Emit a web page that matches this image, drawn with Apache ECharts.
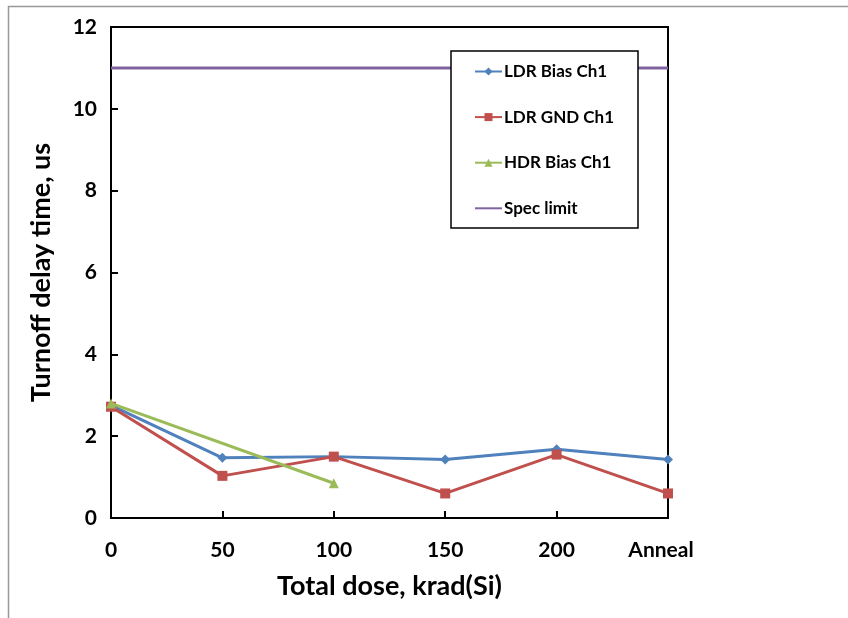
<!DOCTYPE html>
<html>
<head>
<meta charset="utf-8">
<script src="https://cdn.jsdelivr.net/npm/echarts@6/dist/echarts.min.js"></script>
<style>
  html, body { margin: 0; padding: 0; background: #fff; }
  #chart { width: 848px; height: 618px; }
</style>
</head>
<body>
<div id="chart"></div>
<script>
// Dose steps (krad(Si)) followed by the post-irradiation anneal point
const categories = ['0', '50', '100', '150', '200', 'Anneal'];

// Turnoff delay time, microseconds
const ldrBiasCh1 = [2.75, 1.47, 1.50, 1.43, 1.68, 1.43];
const ldrGndCh1  = [2.72, 1.03, 1.50, 0.60, 1.55, 0.60];
const hdrBiasCh1 = [2.80, '-', 0.85, '-', '-', '-'];
const specLimit  = [11, 11, 11, 11, 11, 11];

const yTicks = { min: 0, max: 12, interval: 2 };

const FONT = 'Lato, "Open Sans", sans-serif';

const chart = echarts.init(document.getElementById('chart'), null, { renderer: 'canvas' });

chart.setOption({
  backgroundColor: '#ffffff',
  animation: false,
  grid: {
    left: 111, right: 180, top: 27, bottom: 100,
    show: true, borderColor: '#000', borderWidth: 2, backgroundColor: 'transparent'
  },
  xAxis: {
    type: 'category',
    data: categories,
    boundaryGap: false,
    name: 'Total dose, krad(Si)',
    nameLocation: 'middle',
    nameGap: 55,
    nameTextStyle: { fontFamily: FONT, fontWeight: 'bold', fontSize: 27, color: '#000', verticalAlign: 'top' },
    axisLine: { lineStyle: { color: '#000', width: 2 } },
    axisTick: { inside: true, length: 7, alignWithLabel: true, interval: 0, lineStyle: { color: '#000', width: 2 } },
    axisLabel: {
      interval: 0, hideOverlap: false,
      fontFamily: FONT, fontWeight: 'bold', fontSize: 21, color: '#000', margin: 22,
      formatter: function (v) { return v === 'Anneal' ? '{a|' + v + '}' : v; },
      rich: { a: { fontFamily: FONT, fontWeight: 'bold', fontSize: 21, color: '#000', padding: [0, 14, 0, 0] } }
    },
    splitLine: { show: false }
  },
  yAxis: {
    type: 'value',
    min: yTicks.min, max: yTicks.max, interval: yTicks.interval,
    name: 'Turnoff delay time, us',
    nameLocation: 'middle',
    nameGap: 56,
    nameRotate: 90,
    nameTextStyle: { fontFamily: FONT, fontWeight: 'bold', fontSize: 27, color: '#000' },
    axisLine: { show: true, lineStyle: { color: '#000', width: 2 } },
    axisTick: { show: true, inside: true, length: 7, lineStyle: { color: '#000', width: 2 } },
    axisLabel: { fontFamily: FONT, fontWeight: 'bold', fontSize: 21, color: '#000', margin: 14 },
    splitLine: { show: false }
  },
  legend: {
    orient: 'vertical',
    left: 474, top: 63,
    z: 20,
    itemWidth: 27, itemHeight: 10,
    itemGap: 28.6,
    padding: 0,
    textStyle: { fontFamily: FONT, fontWeight: 'bold', fontSize: 17, color: '#000', padding: [0, 0, 0, -3] },
    data: [
      'LDR Bias Ch1',
      'LDR GND Ch1',
      'HDR Bias Ch1',
      { name: 'Spec limit', itemStyle: { opacity: 0 } }
    ]
  },
  graphic: [
    {
      type: 'rect', z: 0, silent: true,
      shape: { x: 8.5, y: 6.5, width: 900, height: 700 },
      style: { fill: 'none', stroke: '#999', lineWidth: 1.5 }
    },
    {
      type: 'rect', z: 3, silent: true,
      shape: { x: 451, y: 51, width: 187, height: 177 },
      style: { fill: '#fff', stroke: '#000', lineWidth: 1.5 }
    }
  ],
  series: [
    {
      name: 'LDR Bias Ch1', type: 'line', data: ldrBiasCh1,
      symbol: 'diamond', symbolSize: 10,
      lineStyle: { color: '#4F81BD', width: 3 },
      itemStyle: { color: '#4F81BD' }, z: 3
    },
    {
      name: 'LDR GND Ch1', type: 'line', data: ldrGndCh1,
      symbol: 'rect', symbolSize: 10,
      lineStyle: { color: '#C0504D', width: 3 },
      itemStyle: { color: '#C0504D' }, z: 4
    },
    {
      name: 'HDR Bias Ch1', type: 'line', data: hdrBiasCh1, connectNulls: true,
      symbol: 'triangle', symbolSize: 10,
      lineStyle: { color: '#9BBB59', width: 3 },
      itemStyle: { color: '#9BBB59' }, z: 5
    },
    {
      name: 'Spec limit', type: 'line', data: specLimit,
      symbol: 'none', showSymbol: false,
      lineStyle: { color: '#8064A2', width: 3 },
      itemStyle: { color: '#8064A2' }, z: 2
    }
  ]
});
</script>
</body>
</html>
